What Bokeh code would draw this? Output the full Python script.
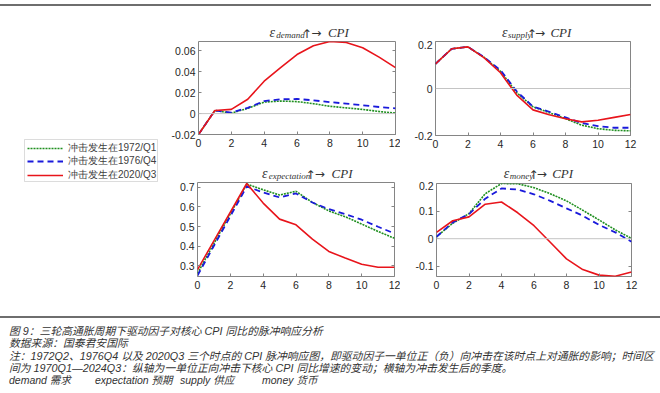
from bokeh.plotting import figure
from bokeh.models import (Range1d, FixedTicker, LinearAxis, Label, Span, Legend, LegendItem, Div,
                          BoxAnnotation)
from bokeh.layouts import row, column
from bokeh.embed import file_html
from bokeh.resources import INLINE

# ---------------- data ----------------
quarters = list(range(13))
x_ticks = [0, 2, 4, 6, 8, 10, 12]

series_labels = ["冲击发生在1972/Q1", "冲击发生在1976/Q4", "冲击发生在2020/Q3"]

demand_1972 = [-0.020, 0.003, 0.0005, 0.005, 0.011, 0.012, 0.0115, 0.0095, 0.007, 0.0055, 0.004, 0.002, 0.0005]
demand_1976 = [-0.020, 0.003, 0.001, 0.0055, 0.012, 0.0137, 0.014, 0.0127, 0.011, 0.0095, 0.008, 0.0063, 0.005]
demand_2020 = [-0.020, 0.003, 0.004, 0.0137, 0.031, 0.044, 0.0565, 0.065, 0.069, 0.068, 0.063, 0.054, 0.044]
demand_ticks = [-0.02, 0, 0.02, 0.04, 0.06]
demand_tick_labels = ["-0.02", "0", "0.02", "0.04", "0.06"]

supply_1972 = [0.105, 0.169, 0.177, 0.132, 0.073, -0.018, -0.078, -0.103, -0.128, -0.156, -0.171, -0.178, -0.180]
supply_1976 = [0.105, 0.169, 0.177, 0.133, 0.078, -0.012, -0.077, -0.099, -0.123, -0.147, -0.160, -0.167, -0.167]
supply_2020 = [0.105, 0.169, 0.177, 0.130, 0.067, -0.028, -0.091, -0.112, -0.129, -0.142, -0.135, -0.123, -0.111]
supply_ticks = [-0.2, 0, 0.2]
supply_tick_labels = ["-0.2", "0", "0.2"]

expect_1972 = [0.261, 0.413, 0.565, 0.717, 0.688, 0.661, 0.680, 0.623, 0.580, 0.550, 0.513, 0.475, 0.440]
expect_1976 = [0.250, 0.402, 0.553, 0.705, 0.674, 0.649, 0.669, 0.623, 0.589, 0.564, 0.535, 0.499, 0.465]
expect_2020 = [0.280, 0.427, 0.573, 0.720, 0.620, 0.538, 0.509, 0.436, 0.373, 0.339, 0.308, 0.292, 0.292]
expect_ticks = [0.3, 0.4, 0.5, 0.6, 0.7]
expect_tick_labels = ["0.3", "0.4", "0.5", "0.6", "0.7"]

money_1972 = [0.007, 0.056, 0.091, 0.163, 0.200, 0.199, 0.185, 0.163, 0.137, 0.103, 0.068, 0.032, 0.001]
money_1976 = [0.007, 0.059, 0.089, 0.145, 0.182, 0.178, 0.161, 0.137, 0.110, 0.083, 0.050, 0.023, -0.011]
money_2020 = [0.023, 0.065, 0.079, 0.125, 0.133, 0.094, 0.047, -0.013, -0.073, -0.112, -0.132, -0.136, -0.121]
money_ticks = [-0.1, 0, 0.1, 0.2]
money_tick_labels = ["-0.1", "0", "0.1", "0.2"]

# ---------------- style ----------------
GREEN = "#1f8f1f"
BLUE = "#1a1adb"
RED = "#e8141b"
FRAME = "#858585"
TXT = "#262626"
styles = [dict(color=GREEN, line_width=1.6, line_dash="2 1"),
          dict(color=BLUE, line_width=1.8, line_dash="6 4"),
          dict(color=RED, line_width=1.6, line_dash="solid")]


def title_fig(width, height, frame_cx, sub, sub_w):
    t = figure(width=width, height=height, x_range=Range1d(0, width), y_range=Range1d(0, height),
               x_axis_type=None, y_axis_type=None, output_backend="svg", toolbar_location=None,
               title=None, min_border=0, outline_line_color=None)
    x0 = frame_cx - (64 + sub_w) / 2.0
    sub_end = x0 + 9 + sub_w
    common = dict(text_color="#333333", text_baseline="middle")
    t.add_layout(Label(x=x0, y=8, text="ε", text_font="Liberation Serif", text_align="left",
                       text_font_style="italic", text_font_size="14px", **common))
    t.add_layout(Label(x=x0 + 8, y=6, text=sub, text_font="Liberation Serif", text_align="left",
                       text_font_style="italic", text_font_size="9px", **common))
    t.add_layout(Label(x=sub_end + 7, y=7, text="↑", text_font="DejaVu Sans", text_align="center",
                       text_font_size="12px", **common))
    t.add_layout(Label(x=sub_end + 18, y=8, text="→", text_font="DejaVu Sans", text_align="center",
                       text_font_size="12px", **common))
    t.add_layout(Label(x=sub_end + 32, y=8, text="CPI", text_font="Liberation Serif", text_align="left",
                       text_font_style="italic", text_font_size="13px", **common))
    return t


def panel(width, height, ylo, yhi, yticks, ylabels, borders, data, zero):
    p = figure(width=width, height=height, x_range=Range1d(0, 12), y_range=Range1d(ylo, yhi),
               output_backend="svg", toolbar_location=None, title=None,
               min_border_left=borders[0], min_border_right=borders[1],
               min_border_top=borders[2], min_border_bottom=borders[3])
    p.grid.visible = False
    p.outline_line_color = FRAME
    p.outline_line_width = 1
    p.xaxis.ticker = FixedTicker(ticks=x_ticks)
    p.yaxis.ticker = FixedTicker(ticks=yticks)
    p.yaxis.major_label_overrides = {t: l for t, l in zip(yticks, ylabels)}
    for ax in (p.xaxis[0], p.yaxis[0]):
        ax.axis_line_color = None
        ax.major_tick_in = 3
        ax.major_tick_out = 0
        ax.major_tick_line_color = FRAME
        ax.minor_tick_line_color = None
        ax.major_label_text_font = "Liberation Sans"
        ax.major_label_text_font_size = "10.5px"
        ax.major_label_text_color = TXT
    p.yaxis.major_label_standoff = 3
    p.xaxis.major_label_standoff = 4
    right = LinearAxis(ticker=FixedTicker(ticks=yticks), axis_line_color=None, major_tick_in=3,
                       major_tick_out=0, major_tick_line_color=FRAME, minor_tick_line_color=None,
                       major_label_overrides={t: "" for t in yticks}, major_label_standoff=0)
    p.add_layout(right, "right")
    if zero:
        p.add_layout(Span(location=0, dimension="width", line_color="#c4c4c4", line_width=1))
    for ys, st in zip(data, styles):
        p.line(quarters, ys, **st)
    return p


f_demand = panel(234, 114, -0.02, 0.069, demand_ticks, demand_tick_labels, (32, 5, 1, 20),
                 [demand_1972, demand_1976, demand_2020], True)
f_supply = panel(260, 114, -0.2, 0.2, supply_ticks, supply_tick_labels, (35, 30, 1, 19),
                 [supply_1972, supply_1976, supply_2020], True)
f_expect = panel(234, 115, 0.245, 0.725, expect_ticks, expect_tick_labels, (31, 6, 1, 20),
                 [expect_1972, expect_1976, expect_2020], False)
f_money = panel(260, 115, -0.137, 0.2, money_ticks, money_tick_labels, (36, 29, 2, 20),
                [money_1972, money_1976, money_2020], True)

t_demand = title_fig(234, 30, 130.5, "demand", 28.5)
t_supply = title_fig(260, 30, 132.5, "supply", 23.5)
t_expect = title_fig(234, 27, 129.5, "expectation", 41.5)
t_money = title_fig(260, 27, 133.5, "money", 23.5)

# legend holder (pixel-like ranges: x 0..166, y 0..286 from bottom)
lf = figure(width=166, height=286, x_range=Range1d(0, 166), y_range=Range1d(0, 286),
            x_axis_type=None, y_axis_type=None, output_backend="svg", toolbar_location=None,
            title=None, min_border=0, outline_line_color=None)
lf.add_layout(BoxAnnotation(left=24, right=157, bottom=115, top=157, fill_color="white", fill_alpha=1,
                            line_color="#8a8a8a", line_width=1))
rends = [lf.line(x=[-20, -10], y=[-20, -20], **st) for st in styles]
for lab, r, yb in zip(series_labels, rends, [141, 128, 114]):
    lf.add_layout(Legend(items=[LegendItem(label=lab, renderers=[r])],
                         location=(27, yb), glyph_width=36, glyph_height=10, label_height=10,
                         label_text_font_size="10px", label_text_font="Liberation Sans",
                         label_text_color="#404040", label_standoff=5, spacing=0, padding=0,
                         margin=0, border_line_color=None, background_fill_alpha=0))

top_line = Div(text='<div style="position:relative;width:660px;height:10px;">'
                    '<div style="position:absolute;left:0;top:2px;width:651px;height:2px;background:#6e6e6e"></div></div>',
               width=660, height=10, margin=0)

cap_font = ("font-family:'Liberation Sans','Noto Sans CJK SC';font-style:italic;color:#333;"
            "white-space:nowrap;position:absolute;")
caption_html = f'''
<div style="position:relative;width:660px;height:97px;">
<div style="position:absolute;left:0;top:20px;width:660px;height:0;border-top:2px solid #6e6e6e;"></div>
<div style="{cap_font}left:9px;top:29px;font-size:10.8px;line-height:12px;">图 9：三轮高通胀周期下驱动因子对核心 CPI 同比的脉冲响应分析</div>
<div style="{cap_font}left:9px;top:41px;font-size:10.8px;line-height:12px;">数据来源：国泰君安国际</div>
<div style="{cap_font}left:9px;top:54px;font-size:10.8px;line-height:12px;">注：1972Q2、1976Q4 以及 2020Q3 三个时点的 CPI 脉冲响应图，即驱动因子一单位正（负）向冲击在该时点上对通胀的影响；时间区</div>
<div style="{cap_font}left:9px;top:66px;font-size:10.8px;line-height:12px;">间为 1970Q1—2024Q3：纵轴为一单位正向冲击下核心 CPI 同比增速的变动；横轴为冲击发生后的季度。</div>
<div style="{cap_font}left:9px;top:78px;font-size:10.5px;line-height:12px;">demand 需求</div>
<div style="{cap_font}left:95px;top:78px;font-size:10.5px;line-height:12px;">expectation 预期</div>
<div style="{cap_font}left:180px;top:78px;font-size:10.5px;line-height:12px;">supply 供应</div>
<div style="{cap_font}left:262px;top:78px;font-size:10.5px;line-height:12px;">money 货币</div>
</div>
'''
caption = Div(text=caption_html, width=660, height=97, margin=0)

layout = column(top_line,
                row(lf, column(row(column(t_demand, f_demand), column(t_supply, f_supply)),
                               row(column(t_expect, f_expect), column(t_money, f_money)))),
                caption)

open("out.html", "w").write(file_html(layout, INLINE))
